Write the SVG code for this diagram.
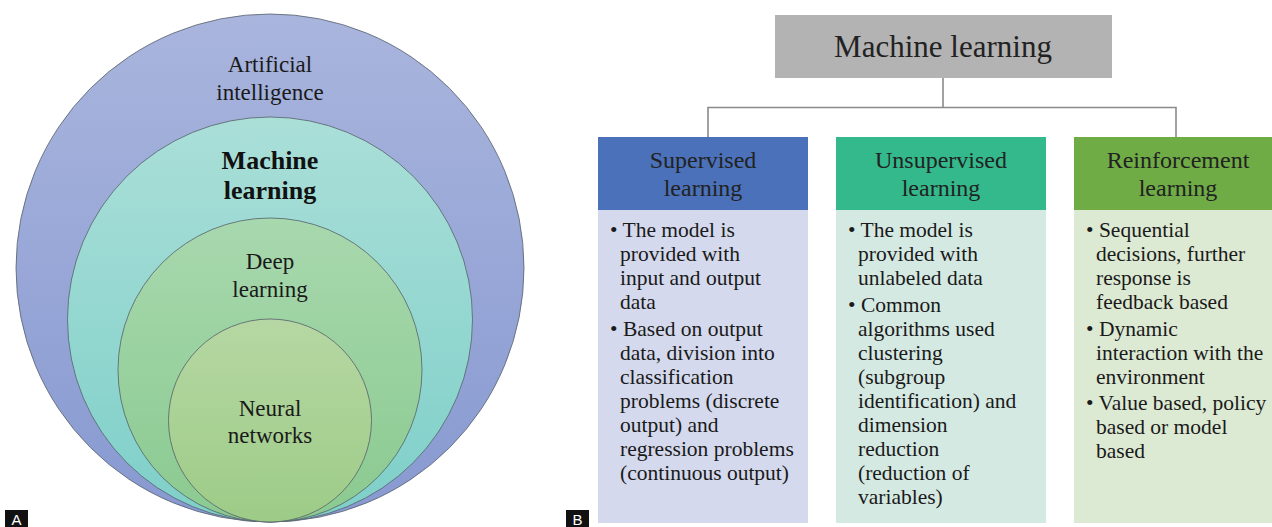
<svg xmlns="http://www.w3.org/2000/svg" width="1272" height="527" viewBox="0 0 1272 527">
<defs>
<linearGradient id="gAI" x1="0" y1="0" x2="0" y2="1"><stop offset="0" stop-color="#a9b5dd"/><stop offset="1" stop-color="#8799d1"/></linearGradient>
<linearGradient id="gML" x1="0" y1="0" x2="0" y2="1"><stop offset="0" stop-color="#aadfd8"/><stop offset="1" stop-color="#7ecfc9"/></linearGradient>
<linearGradient id="gDL" x1="0" y1="0" x2="0" y2="1"><stop offset="0" stop-color="#a8d8ae"/><stop offset="1" stop-color="#8aca90"/></linearGradient>
<linearGradient id="gNN" x1="0" y1="0" x2="0" y2="1"><stop offset="0" stop-color="#b6d7a3"/><stop offset="1" stop-color="#9dcc87"/></linearGradient>
</defs>
<style>
.circ{stroke:#55606a;stroke-width:0.8}
.ct{font-family:"Liberation Serif",serif;font-size:23px;fill:#1a1a1a;text-anchor:middle}
.ctb{font-family:"Liberation Serif",serif;font-size:26px;font-weight:bold;fill:#111;text-anchor:middle}
.tag{fill:#111}
.tagt{font-family:"Liberation Sans",sans-serif;font-size:15px;fill:#fff;text-anchor:middle}
.hd{font-family:"Liberation Serif",serif;font-size:24px;fill:#222;text-anchor:middle}
.top{font-family:"Liberation Serif",serif;font-size:31px;fill:#222;text-anchor:middle}
.bt{font-family:"Liberation Serif",serif;font-size:21.5px;fill:#1a1a1a}
.conn{stroke:#8a8a8a;stroke-width:1.6;fill:none}
</style>
<rect width="1272" height="527" fill="#ffffff"/>

<g id="panelA">
<g id="ai"><circle class="circ" cx="270" cy="268" r="254" fill="url(#gAI)"/>
<text class="ct" x="270" y="72">Artificial</text><text class="ct" x="270" y="100">intelligence</text></g>
<g id="ml"><circle class="circ" cx="270" cy="319.5" r="202.5" fill="url(#gML)"/>
<text class="ctb" x="270" y="169">Machine</text><text class="ctb" x="270" y="199">learning</text></g>
<g id="dl"><circle class="circ" cx="270" cy="370" r="152" fill="url(#gDL)"/>
<text class="ct" x="270" y="269">Deep</text><text class="ct" x="270" y="297">learning</text></g>
<g id="nn"><circle class="circ" cx="270" cy="420.5" r="101.5" fill="url(#gNN)"/>
<text class="ct" x="270" y="416">Neural</text><text class="ct" x="270" y="443">networks</text></g>
<g id="labelA"><rect class="tag" x="5" y="510" width="23" height="17"/><text class="tagt" x="16.5" y="525">A</text></g>
</g>

<g id="connectors">
<path class="conn" d="M943 78 V107.5 M708 137 V107.5 H1176 V137"/>
</g>

<g id="panelB">
<g id="labelB"><rect class="tag" x="566" y="510" width="23" height="17"/><text class="tagt" x="577.5" y="525">B</text></g>
<g id="root"><rect x="775" y="15" width="337" height="63" fill="#b3b3b3"/>
<text class="top" x="943" y="57">Machine learning</text></g>

<g id="supervised">
<rect x="598" y="137" width="210" height="73" fill="#4a71b9"/>
<rect x="598" y="210" width="210" height="313" fill="#d4d9ed"/>
<text class="hd" x="703" y="168">Supervised</text><text class="hd" x="703" y="196">learning</text>
<text class="bt" x="610" y="237">• The model is</text>
<text class="bt" x="620" y="261">provided with</text>
<text class="bt" x="620" y="285">input and output</text>
<text class="bt" x="620" y="309">data</text>
<text class="bt" x="610" y="336">• Based on output</text>
<text class="bt" x="620" y="360">data, division into</text>
<text class="bt" x="620" y="384">classification</text>
<text class="bt" x="620" y="408">problems (discrete</text>
<text class="bt" x="620" y="432">output) and</text>
<text class="bt" x="620" y="456">regression problems</text>
<text class="bt" x="620" y="480">(continuous output)</text>
</g>

<g id="unsupervised">
<rect x="836" y="137" width="210" height="73" fill="#33b98b"/>
<rect x="836" y="210" width="210" height="313" fill="#d5e9e3"/>
<text class="hd" x="941" y="168">Unsupervised</text><text class="hd" x="941" y="196">learning</text>
<text class="bt" x="848" y="237">• The model is</text>
<text class="bt" x="858" y="261">provided with</text>
<text class="bt" x="858" y="285">unlabeled data</text>
<text class="bt" x="848" y="312">• Common</text>
<text class="bt" x="858" y="336">algorithms used</text>
<text class="bt" x="858" y="360">clustering</text>
<text class="bt" x="858" y="384">(subgroup</text>
<text class="bt" x="858" y="408">identification) and</text>
<text class="bt" x="858" y="432">dimension</text>
<text class="bt" x="858" y="456">reduction</text>
<text class="bt" x="858" y="480">(reduction of</text>
<text class="bt" x="858" y="504">variables)</text>
</g>

<g id="reinforcement">
<rect x="1074" y="137" width="210" height="73" fill="#6fac46"/>
<rect x="1074" y="210" width="210" height="313" fill="#dce9d3"/>
<text class="hd" x="1178" y="168">Reinforcement</text><text class="hd" x="1178" y="196">learning</text>
<text class="bt" x="1086" y="237">• Sequential</text>
<text class="bt" x="1096" y="261">decisions, further</text>
<text class="bt" x="1096" y="285">response is</text>
<text class="bt" x="1096" y="309">feedback based</text>
<text class="bt" x="1086" y="336">• Dynamic</text>
<text class="bt" x="1096" y="360">interaction with the</text>
<text class="bt" x="1096" y="384">environment</text>
<text class="bt" x="1086" y="410">• Value based, policy</text>
<text class="bt" x="1096" y="434">based or model</text>
<text class="bt" x="1096" y="458">based</text>
</g>
</g>
</svg>
